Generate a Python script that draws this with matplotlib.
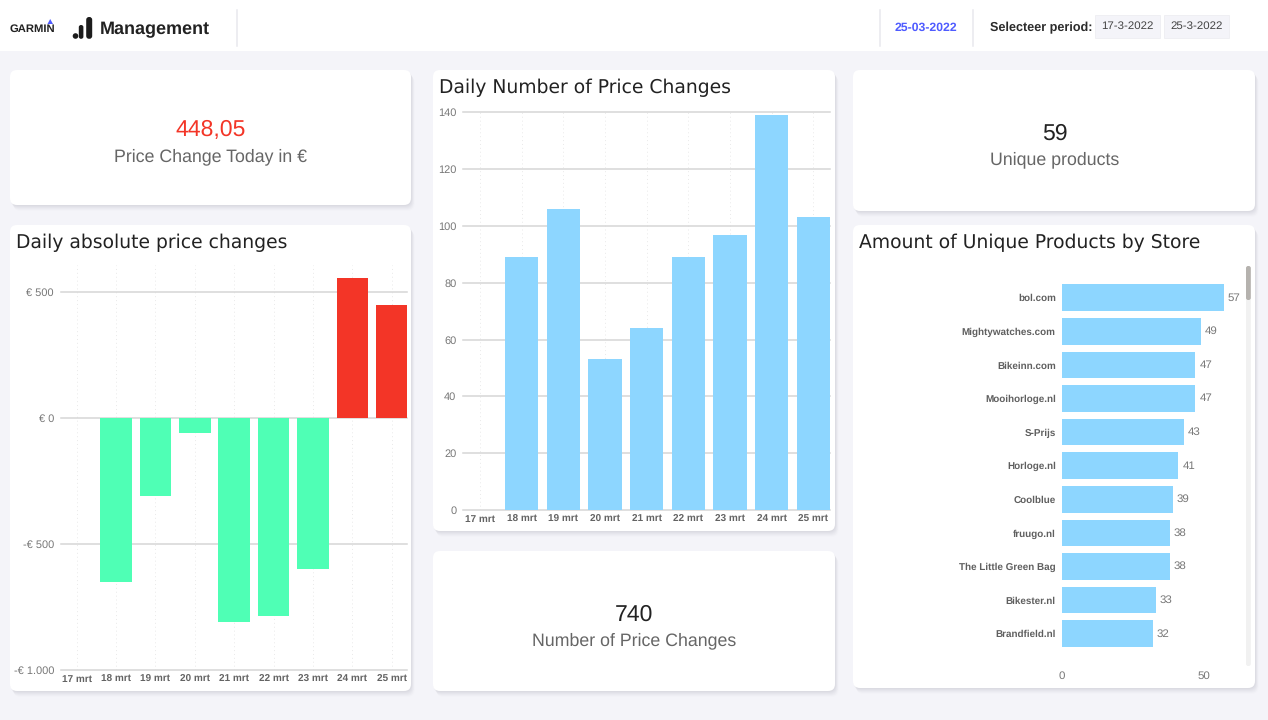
"""Garmin price change dashboard rebuilt with matplotlib."""

import matplotlib
matplotlib.use("Agg")
import matplotlib.pyplot as plt
from matplotlib.patches import Circle, FancyBboxPatch, Polygon, Rectangle

WIDTH, HEIGHT = 1268, 720

days = ["17 mrt", "18 mrt", "19 mrt", "20 mrt", "21 mrt", "22 mrt", "23 mrt", "24 mrt", "25 mrt"]
abs_changes = [0, -651, -311, -60, -810, -786, -599, 553, 448]
abs_ticks = [-1000, -500, 0, 500]
abs_tick_labels = ["-€ 1.000", "-€ 500", "€ 0", "€ 500"]
num_changes = [0, 89, 106, 53, 64, 89, 97, 139, 103]
num_ticks = [0, 20, 40, 60, 80, 100, 120, 140]
stores = ["bol.com", "Mightywatches.com", "Bikeinn.com", "Mooihorloge.nl", "S-Prijs", "Horloge.nl",
          "Coolblue", "fruugo.nl", "The Little Green Bag", "Bikester.nl", "Brandfield.nl"]
store_products = [57, 49, 47, 47, 43, 41, 39, 38, 38, 33, 32]
store_ticks = [0, 50]

BG = "#f4f4f9"
GREEN = "#4fffb5"
RED = "#f33527"
BLUE = "#8dd6ff"
GRID = "#d6d6d6"
SANS = "Liberation Sans"


def px(size):
    # css pixels to points at dpi 100
    return size * 0.72


def card(ax, left, top, right, bottom):
    for off, alpha in [(6, 0.012), (5, 0.018), (4, 0.022), (3, 0.028), (2, 0.03), (1, 0.03)]:
        ax.add_patch(FancyBboxPatch((left + off * 0.6, top + off), right - left, bottom - top,
                                    boxstyle="round,pad=0,rounding_size=7", fc="#555566", ec="none", alpha=alpha))
    ax.add_patch(FancyBboxPatch((left, top), right - left, bottom - top,
                                boxstyle="round,pad=0,rounding_size=7", fc="white", ec="none"))


def chart_axes(fig, left, top, right, bottom):
    ax = fig.add_axes([left / WIDTH, 1 - bottom / HEIGHT, (right - left) / WIDTH, (bottom - top) / HEIGHT])
    ax.patch.set_alpha(0)
    for spine in ax.spines.values():
        spine.set_visible(False)
    ax.tick_params(length=0)
    ax.set_axisbelow(True)
    return ax


def style_column_chart(ax):
    ax.grid(axis="y", color=GRID, lw=1.1)
    ax.grid(axis="x", color="#e9e9e9", lw=0.7, ls=(0, (1, 3)))
    for line in ax.get_ygridlines():
        line.set_clip_on(False)
    ax.tick_params(axis="x", pad=3.4)
    ax.tick_params(axis="y", pad=5)
    for label in ax.get_xticklabels():
        label.set(fontfamily=SANS, fontsize=px(10), fontweight="bold", color="#636363")
    for label in ax.get_yticklabels():
        label.set(fontfamily=SANS, fontsize=px(11), color="#777777")


plt.rcParams["font.family"] = [SANS, "DejaVu Sans"]
plt.rcParams["text.hinting"] = "no_hinting"
fig = plt.figure(figsize=(WIDTH / 100, HEIGHT / 100), dpi=100, facecolor=BG)

# page layer in pixel coordinates
page = fig.add_axes([0, 0, 1, 1])
page.set_xlim(0, WIDTH)
page.set_ylim(HEIGHT, 0)
page.axis("off")

# header
page.add_patch(Rectangle((0, 0), WIDTH, 51, fc="white", ec="none"))
for x in [237, 880, 972.5]:
    page.plot([x, x], [10, 46], color="#e8e8ee", lw=1.1)
page.text(10, 28.8, "GARMIN", fontsize=px(11.2), fontweight="bold", color="#222222", va="center", ha="left")
page.add_patch(Polygon([[47.5, 24], [53, 24], [50.2, 19]], fc="#4f5bff", ec="none"))
page.add_patch(Circle((75.5, 36), 2.8, fc="#1c1c1c", ec="none"))
page.add_patch(FancyBboxPatch((78.8, 25), 4.6, 13.8, boxstyle="round,pad=0,rounding_size=2.2", fc="#1c1c1c", ec="none"))
page.add_patch(FancyBboxPatch((86.2, 17), 6, 21.8, boxstyle="round,pad=0,rounding_size=2.8", fc="#1c1c1c", ec="none"))
page.text(100, 29.5, "Management", fontsize=px(18), fontweight="bold", color="#222222", va="center")
page.text(925.5, 27.5, "25-03-2022", fontsize=px(12.3), fontweight="bold", color="#4f5bff", ha="center", va="center")
page.text(990, 27.5, "Selecteer period:", fontsize=px(12.6), fontweight="bold", color="#2b2b2b", va="center")
for left, right, label in [(1095, 1160, "17-3-2022"), (1164, 1229, "25-3-2022")]:
    page.add_patch(Rectangle((left, 14.5), right - left, 23, fc=BG, ec="#eeeef2", lw=0.6))
    page.text((left + right) / 2, 26.5, label, fontsize=px(11.5), color="#444444", ha="center", va="center")

# cards
card(page, 10, 70, 411, 205)
card(page, 10, 225, 411, 691)
card(page, 433, 70, 835, 531)
card(page, 433, 551, 835, 691)
card(page, 853, 70, 1255, 211)
card(page, 853, 225, 1255, 688)

# kpi cards
for x, y, value, label, colour in [(210.5, 130.5, "448,05", "Price Change Today in €", RED),
                                   (1054.5, 133.5, "59", "Unique products", "#222222"),
                                   (634, 614.5, "740", "Number of Price Changes", "#222222")]:
    page.text(x, y, value, fontsize=px(23), color=colour, ha="center", va="center")
    page.text(x, y + 26, label, fontsize=px(17.8), color="#666666", ha="center", va="center")

# chart titles
for x, y, title in [(16, 242.5, "Daily absolute price changes"),
                    (439, 87.5, "Daily Number of Price Changes"),
                    (859, 242.5, "Amount of Unique Products by Store")]:
    page.text(x, y, title, fontfamily="DejaVu Sans", fontsize=px(18.8), color="#222222", va="center")

# daily absolute price changes
ax = chart_axes(fig, 61, 265, 407, 670)
colors = [RED if v > 0 else GREEN for v in abs_changes]
ax.bar(range(len(days)), abs_changes, width=0.8, color=colors)
ax.set_xlim(-0.399, 8.39)
ax.set_ylim(-1000, 606)
ax.set_xticks(range(len(days)), days)
ax.set_yticks(abs_ticks, abs_tick_labels)
style_column_chart(ax)

# daily number of price changes
ax = chart_axes(fig, 463.3, 112.4, 830, 510)
ax.bar(range(len(days)), num_changes, width=0.8, color=BLUE)
ax.set_xlim(-0.4, 8.4)
ax.set_ylim(0, 140)
ax.set_xticks(range(len(days)), days)
ax.set_yticks(num_ticks)
style_column_chart(ax)

# unique products by store
ax = chart_axes(fig, 1062, 280.9, 1240, 650.5)
bars = ax.barh(range(len(stores)), store_products, height=0.795, color=BLUE)
ax.bar_label(bars, padding=3, fontsize=px(11.5), color="#777777", fontfamily=SANS)
ax.set_xlim(0, 62.8)
ax.set_ylim(10.5, -0.5)
ax.set_yticks(range(len(stores)), stores)
ax.set_xticks(store_ticks)
ax.tick_params(axis="y", pad=4.5)
ax.tick_params(axis="x", pad=15)
for label in ax.get_yticklabels():
    label.set(fontfamily=SANS, fontsize=px(9.9), fontweight="bold", color="#5f5f5f")
for label in ax.get_xticklabels():
    label.set(fontfamily=SANS, fontsize=px(11.5), color="#777777")

# scrollbar
page.add_patch(FancyBboxPatch((1246, 266), 4.8, 400, boxstyle="round,pad=0,rounding_size=2.2", fc="#f1f1f1", ec="none"))
page.add_patch(FancyBboxPatch((1246, 266), 4.8, 34, boxstyle="round,pad=0,rounding_size=2.2", fc="#b5b2ae", ec="none"))

fig.savefig("out.png", dpi=100, facecolor=BG)
